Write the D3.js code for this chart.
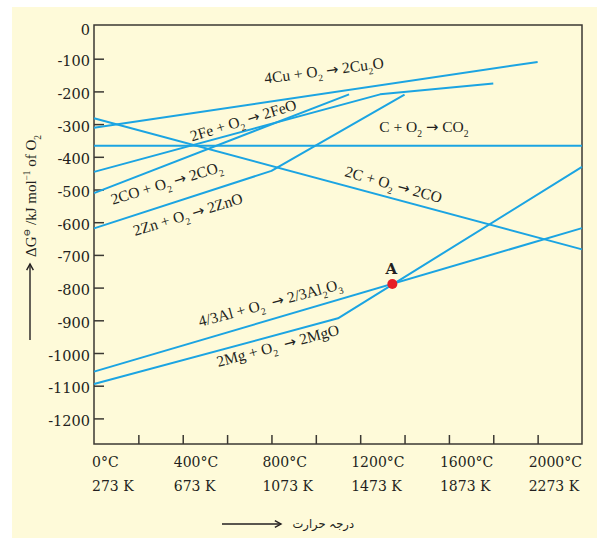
<!DOCTYPE html>
<html>
<head>
<meta charset="utf-8">
<script src="https://cdn.jsdelivr.net/npm/d3@7"></script>
<style>
  html, body { margin: 0; padding: 0; background: #ffffff; }
  svg { display: block; }
</style>
</head>
<body>
<svg id="chart" width="604" height="538"></svg>
<script>
// ---------------- DATA ----------------
const tempC = [0, 400, 800, 1200, 1600, 2000];          // °C tick labels
const tempK = [273, 673, 1073, 1473, 1873, 2273];       // K tick labels
const minorTicksC = [200, 400, 600, 800, 1000, 1200, 1400, 1600, 1800, 2000];
const yTicks = [0, -100, -200, -300, -400, -500, -600, -700, -800, -900, -1000, -1100, -1200];

// series: [temperature °C, ΔG kJ/mol O2]
const cuLine   = [[0, -311], [2000, -110]];
const feLine   = [[0, -446], [1290, -209], [1800, -176]];
const coLine   = [[0, -511], [1150, -209]];
const cco2Line = [[0, -366], [2200, -366]];
const ccoLine  = [[0, -282], [2200, -683]];
const znLine   = [[0, -619], [800, -443], [1400, -210]];
const alLine   = [[0, -1057], [2200, -618]];
const mgLine   = [[0, -1095], [1100, -894], [2200, -431]];
const pointA   = [1345, -789];

// label texts (segments: [text, kind])
const AR = "\u2192";
const labelCu  = [["4Cu + O", ""], ["2", "sub"], [" ", ""], [AR, "arr"], [" 2Cu", ""], ["2", "sub"], ["O", ""]];
const labelFe  = [["2Fe + O", ""], ["2", "sub"], [" ", ""], [AR, "arr"], [" 2FeO", ""]];
const labelCO  = [["2CO + O", ""], ["2", "sub"], [" ", ""], [AR, "arr"], [" 2CO", ""], ["2", "sub"]];
const labelZn  = [["2Zn + O", ""], ["2", "sub"], [" ", ""], [AR, "arr"], [" 2ZnO", ""]];
const labelCO2 = [["C + O", ""], ["2", "sub"], [" ", ""], [AR, "arr"], [" CO", ""], ["2", "sub"]];
const labelC   = [["2C + O", ""], ["2", "sub"], [" ", ""], [AR, "arr"], [" 2CO", ""]];
const labelAl  = [["4/3Al + O", ""], ["2", "sub"], ["  ", ""], [AR, "arr"], [" 2/3Al", ""], ["2", "sub"], ["O", ""], ["3", "sub"]];
const labelMg  = [["2Mg + O", ""], ["2", "sub"], ["  ", ""], [AR, "arr"], [" 2MgO", ""]];
const pointLabel = "A";
const yTitle = [["\u0394G", ""], ["\u2296", "sup"], [" /kJ mol", ""], ["\u22121", "sup"], [" of O", ""], ["2", "sub"]];
const xTitle = "درجہ حرارت";

// ---------------- LAYOUT ----------------
const svg = d3.select("#chart");
const plot = { left: 94, right: 582, top: 25, bottom: 444 };
const x = d3.scaleLinear().domain([0, 2200]).range([plot.left, plot.right]);
const y = d3.scaleLinear().domain([0, -1200]).range([26, 418.4]);

const lineColor = "#1ba4e2";
const frameColor = "#3b3833";
const textColor = "#231f20";
const serifAxis = "'DejaVu Serif', serif";
const serifLab = "'Liberation Serif', 'DejaVu Serif', serif";
const labSize = 15.5;

// cream panel
svg.append("rect").attr("x", 12).attr("y", 7).attr("width", 585).attr("height", 531)
  .attr("fill", "#fefad9");

// frame
svg.append("rect").attr("x", plot.left).attr("y", plot.top)
  .attr("width", plot.right - plot.left).attr("height", plot.bottom - plot.top)
  .attr("fill", "none").attr("stroke", frameColor).attr("stroke-width", 1.5);

// y ticks (inward)
const yAxisG = svg.append("g").attr("transform", `translate(${plot.left},0)`);
yAxisG.call(d3.axisRight(y).tickValues(yTicks.filter(d => d !== 0)).tickSize(10).tickFormat(""))
  .call(g => g.select(".domain").remove())
  .call(g => g.selectAll("line").attr("stroke", frameColor).attr("stroke-width", 1.5));

svg.append("g").selectAll("text").data(yTicks).join("text")
  .attr("x", plot.left - 4).attr("y", d => y(d)).attr("dy", d => d === 0 ? 9 : 7.5)
  .attr("text-anchor", "end").attr("font-family", serifAxis).attr("font-size", 14.5)
  .attr("fill", textColor).text(d => d === 0 ? "0" : "-" + Math.abs(d));

// x ticks (inward)
const xAxisG = svg.append("g").attr("transform", `translate(0,${plot.bottom})`);
xAxisG.call(d3.axisTop(x).tickValues(minorTicksC).tickSize(9).tickFormat(""))
  .call(g => g.select(".domain").remove())
  .call(g => g.selectAll("line").attr("stroke", frameColor).attr("stroke-width", 1.5));

const xl = svg.append("g").attr("font-family", serifAxis).attr("font-size", 14).attr("fill", textColor);
xl.selectAll("text.c").data(tempC).join("text").attr("class", "c")
  .attr("x", (d, i) => i === 0 ? x(d) - 2 : x(d) - 9).attr("y", 467)
  .text(d => d + "\u00B0C");
xl.selectAll("text.k").data(tempK).join("text").attr("class", "k")
  .attr("x", (d, i) => i === 0 ? x(tempC[i]) - 2 : x(tempC[i]) - 9).attr("y", 491)
  .text(d => d + " K");

// lines
const lineGen = d3.line().x(d => x(d[0])).y(d => y(d[1]));
const series = [cuLine, feLine, coLine, cco2Line, ccoLine, znLine, alLine, mgLine];
svg.append("g").selectAll("path").data(series).join("path")
  .attr("d", lineGen).attr("fill", "none").attr("stroke", lineColor)
  .attr("stroke-width", 2).attr("stroke-linejoin", "round");

// rich text helper
function richText(sel, segs, size) {
  let shift = 0;
  segs.forEach(([t, kind]) => {
    let target = kind === "sub" ? size * 0.3 : kind === "sup" ? -size * 0.38 : 0;
    const ts = sel.append("tspan").attr("dy", target - shift)
      .attr("font-size", (kind === "sub" || kind === "sup") ? size * 0.62 : size).text(t);
    if (kind === "arr") ts.attr("font-family", "'DejaVu Sans', sans-serif").attr("font-size", size * 0.95);
    shift = target;
  });
}

// reaction labels: [segments, T, ΔG, angle]
const labelLayout = [
  [labelCu, 771, -176, -7.5],
  [labelFe, 442, -353, -17],
  [labelCO, 84, -547, -17],
  [labelZn, 185, -642, -17],
  [labelCO2, 1286, -324, 0],
  [labelC, 1127, -459, 15.7],
  [labelAl, 478, -920, -15],
  [labelMg, 560, -1043, -15]
];
labelLayout.forEach(([segs, T, v, ang]) => {
  const t = svg.append("text")
    .attr("transform", `translate(${x(T)},${y(v)}) rotate(${ang})`)
    .attr("font-family", serifLab).attr("font-size", labSize).attr("fill", textColor)
    .style("white-space", "pre");
  richText(t, segs, labSize);
});

// point A
svg.append("circle").attr("cx", x(pointA[0])).attr("cy", y(pointA[1])).attr("r", 5)
  .attr("fill", "#e61e26");
svg.append("text").attr("x", x(pointA[0]) - 1).attr("y", y(pointA[1]) - 10)
  .attr("text-anchor", "middle").attr("font-family", serifAxis).attr("font-weight", "bold")
  .attr("font-size", 15).attr("fill", textColor).text(pointLabel);

// y-axis title (rotated)
const yt = svg.append("text")
  .attr("transform", `translate(36,196) rotate(-90)`)
  .attr("text-anchor", "middle").attr("font-family", serifLab).attr("font-size", 15)
  .attr("fill", textColor).style("white-space", "pre");
richText(yt, yTitle, 15);

// arrows
function arrow(x1, y1, x2, y2) {
  const g = svg.append("g").attr("stroke", textColor).attr("stroke-width", 1.4).attr("fill", "none");
  g.append("line").attr("x1", x1).attr("y1", y1).attr("x2", x2).attr("y2", y2);
  const a = Math.atan2(y2 - y1, x2 - x1), L = 7, s = 0.5;
  g.append("path").attr("d",
    `M${x2 - L * Math.cos(a - s)},${y2 - L * Math.sin(a - s)} L${x2},${y2} L${x2 - L * Math.cos(a + s)},${y2 - L * Math.sin(a + s)}`);
}
arrow(30, 340, 30, 264);
arrow(222, 524, 281, 524);

// x-axis title (Urdu)
svg.append("text").attr("x", 354).attr("y", 528).attr("text-anchor", "end")
  .attr("font-family", "'DejaVu Sans', 'Noto Sans', sans-serif").attr("font-size", 11.5)
  .attr("fill", textColor).text(xTitle);
</script>
</body>
</html>
